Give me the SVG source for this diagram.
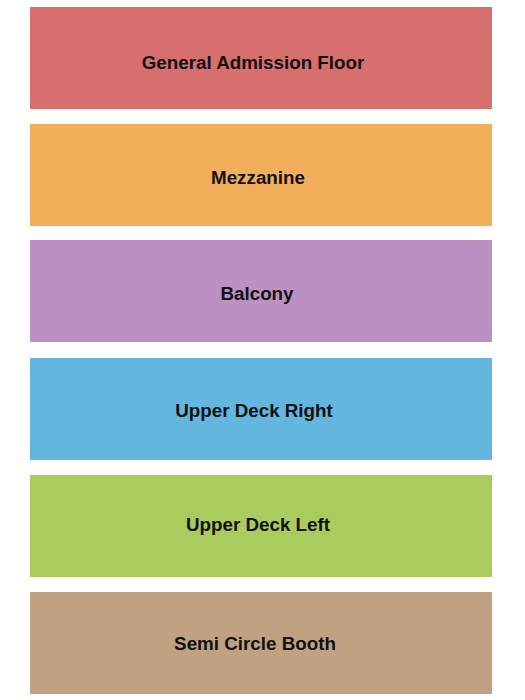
<svg xmlns="http://www.w3.org/2000/svg" width="525" height="700" viewBox="0 0 525 700">
<style>
.sec{stroke:none}
.lbl{font-family:"Liberation Sans",Arial,sans-serif;font-weight:bold;font-size:18.8px;fill:#111;text-anchor:middle}
</style>
<rect width="525" height="700" fill="#ffffff"/>
<g id="general-admission-floor">
<rect class="sec" x="30" y="7" width="462" height="102" fill="#D66F6E"/>
<text class="lbl" x="253" y="69">General Admission Floor</text>
</g>
<g id="mezzanine">
<rect class="sec" x="30" y="124" width="462" height="102" fill="#F3AE5B"/>
<text class="lbl" x="258" y="184">Mezzanine</text>
</g>
<g id="balcony">
<rect class="sec" x="30" y="240" width="462" height="102" fill="#BB91C3"/>
<text class="lbl" x="257" y="300">Balcony</text>
</g>
<g id="upper-deck-right">
<rect class="sec" x="30" y="358" width="462" height="102" fill="#63B6DD"/>
<text class="lbl" x="254" y="417">Upper Deck Right</text>
</g>
<g id="upper-deck-left">
<rect class="sec" x="30" y="475" width="462" height="102" fill="#AACB5E"/>
<text class="lbl" x="258" y="531">Upper Deck Left</text>
</g>
<g id="semi-circle-booth">
<rect class="sec" x="30" y="592" width="462" height="102" fill="#C0A283"/>
<text class="lbl" x="255" y="650">Semi Circle Booth</text>
</g>
<g id="connectors"></g>
</svg>
